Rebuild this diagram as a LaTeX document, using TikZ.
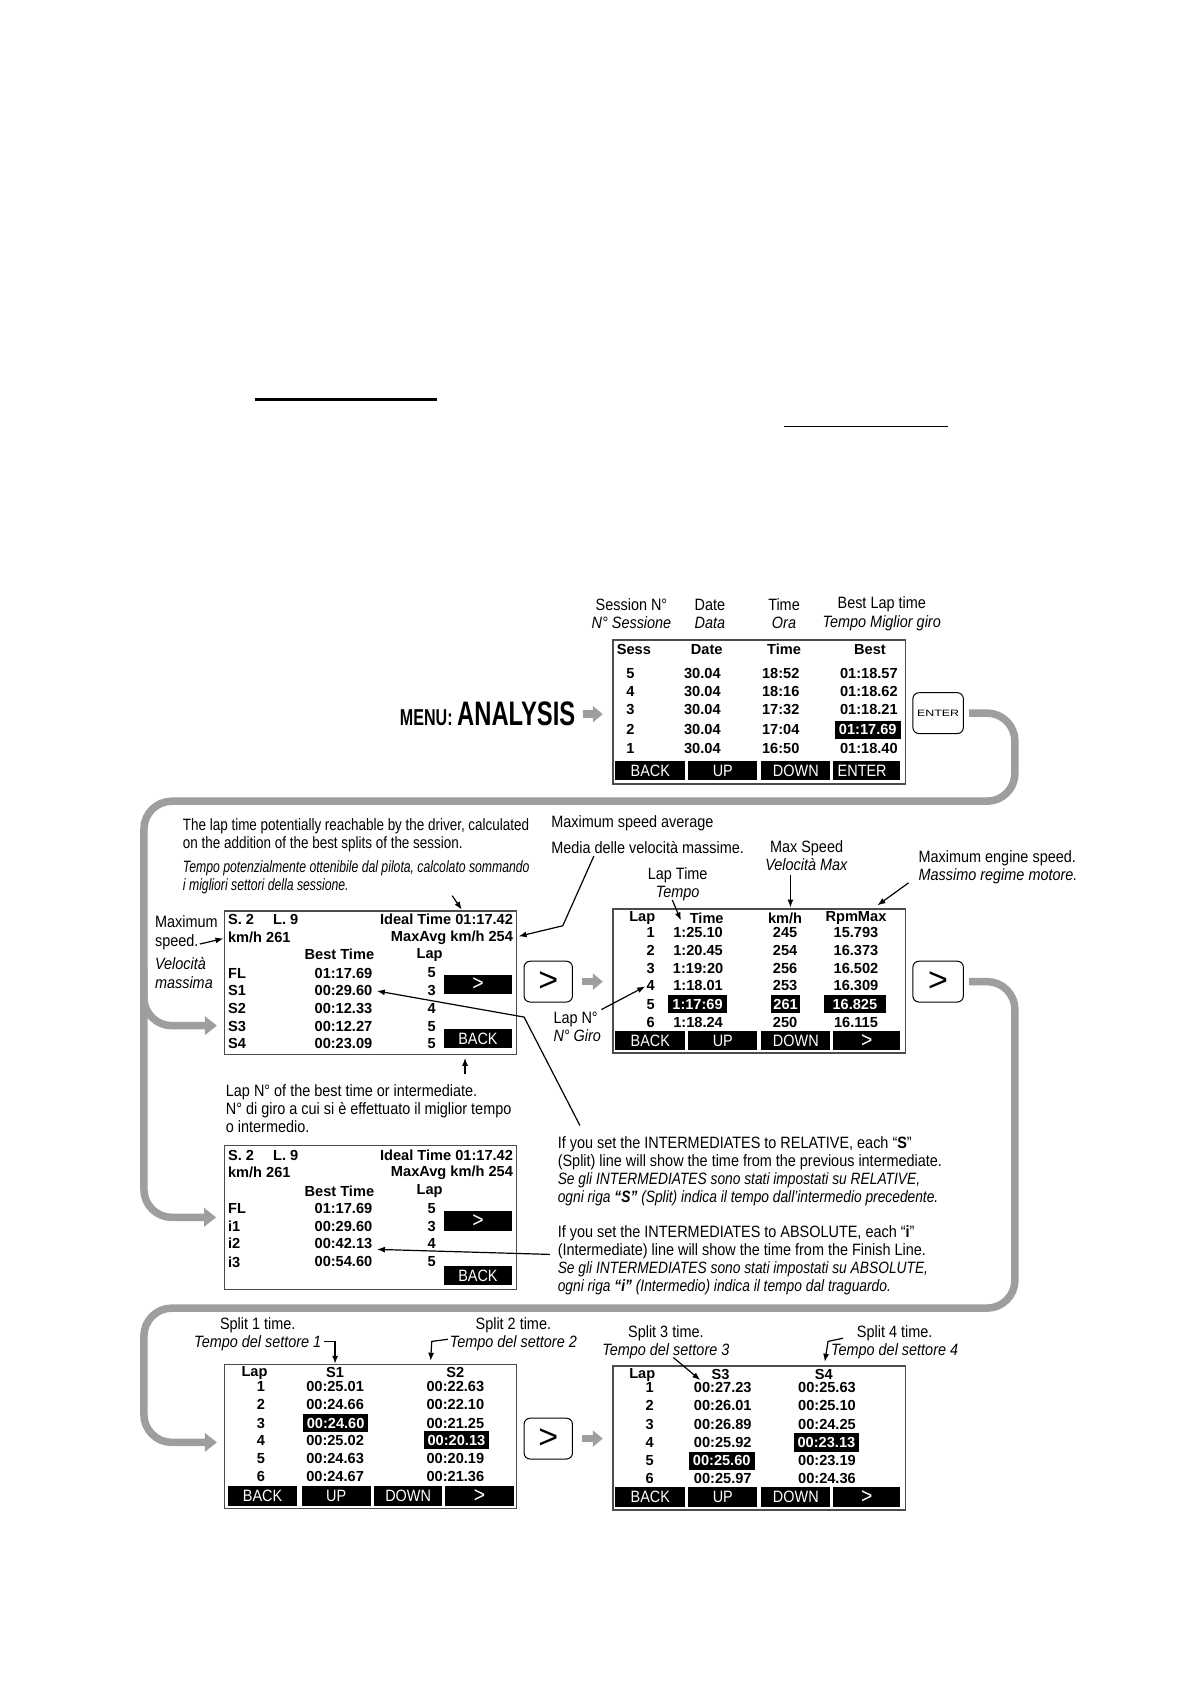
\documentclass[tikz,border=0pt]{standalone}
\usepackage{fontspec}
\setmainfont{Liberation Sans}
\newfontfamily\notefont{Liberation Sans}[FakeStretch=0.88]
\newfontfamily\slimfont{Liberation Sans}[FakeStretch=0.84]
\newfontfamily\condfont{Liberation Sans}[FakeStretch=0.82]
\newfontfamily\xcondfont{Liberation Sans}[FakeStretch=0.745]
\newfontfamily\menufont{Liberation Sans}[FakeStretch=0.7]
\newfontfamily\keyfont{Liberation Sans}[FakeStretch=1.35]
\usetikzlibrary{positioning, arrows.meta}

\newcommand{\px}{0.537pt}
\newcommand{\datasize}{\fontsize{7.3}{8.8}\selectfont\bfseries}
\newcommand{\notesize}{\notefont\fontsize{8.2}{9.1}\selectfont}
\newcommand{\condsize}{\condfont\fontsize{8.2}{9.1}\selectfont}
\newcommand{\xcondsize}{\xcondfont\fontsize{8.2}{9.1}\selectfont}
\newcommand{\slimit}[1]{{\slimfont\itshape #1}}
\newcommand{\btnsize}{\notefont\fontsize{8.2}{9}\selectfont}
\newcommand{\keysize}{\fontsize{17}{17}\selectfont}

\definecolor{flowgray}{gray}{0.62}
\definecolor{framegray}{gray}{0.3}

\begin{document}
\begin{tikzpicture}[
    x=\px, y=-\px,
    screen/.style={
        draw=framegray,
        line width=0.8pt,
        minimum width=272*\px,
        minimum height=134*\px,
        inner sep=0pt
    },
    cell/.style={font=\datasize, inner sep=0pt},
    hl/.style={
        font=\datasize,
        fill=black,
        text=white,
        inner xsep=2pt,
        inner ysep=0pt,
        minimum height=17*\px
    },
    btn/.style={
        fill=black,
        text=white,
        font=\btnsize,
        minimum width=64*\px,
        minimum height=18*\px,
        inner sep=0pt
    },
    nextbtn/.style={btn, font=\notefont\fontsize{11}{11}\selectfont},
    key/.style={
        draw,
        rounded corners=3pt,
        line width=0.5pt,
        minimum width=45*\px,
        minimum height=38*\px,
        inner sep=0pt,
        font=\keysize
    },
    note/.style={font=\notesize, align=left, inner sep=0pt},
    pointer/.style={-{Latex[length=4pt, width=3pt]}, line width=0.6pt},
    flow/.style={draw=flowgray, line width=7*\px, rounded corners=26*\px, -{Triangle[length=6pt, width=9pt]}},
    fwd/.style={draw=flowgray, line width=7*\px, -{Triangle[length=5pt, width=8pt]}}
]
\useasboundingbox (0,0) rectangle (1109,1568);

% Rules at the top of the page
\draw[line width=2.4*\px] (237,372) -- (407,372);
\draw[line width=1.4*\px] (730,397) -- (883,397);

% Session list
\node[inner sep=0pt, anchor=west] (menu) at (372,665) {\menufont\bfseries\fontsize{11.5}{12}\selectfont MENU: \fontsize{17}{17}\selectfont ANALYSIS};

\node[note, align=center] (h-sess) at (588,571.5) {Session N°\\\textit{N° Sessione}};
\node[note, align=center] (h-date) at (661,571.5) {Date\\\textit{Data}};
\node[note, align=center] (h-time) at (730,571.5) {Time\\\textit{Ora}};
\node[note, align=center] (h-best) at (821,571.5) {Best Lap time\\\textit{Tempo Miglior giro}};

\node[screen] (sess) at (707,663) {};
\node[cell, anchor=west] (sess-h1) at (574,605) {Sess};
\node[cell] (sess-h2) at (658,605) {Date};
\node[cell] (sess-h3) at (730,605) {Time};
\node[cell] (sess-h4) at (810,605) {Best};
\foreach \ya/\nn/\tm/\bt in {627/5/18:52/01:18.57, 644/4/18:16/01:18.62, 661/3/17:32/01:18.21, 679/2/17:04/{}, 697/1/16:50/01:18.40} {
    \node[cell] (sess-n\nn) at (587,\ya) {\nn};
    \node[cell] (sess-d\nn) at (654,\ya) {30.04};
    \node[cell] (sess-t\nn) at (727,\ya) {\tm};
    \node[cell] (sess-b\nn) at (809,\ya) {\bt};
}
\node[hl, minimum width=61*\px] (sess-best) at (808,679.5) {01:17.69};
\node[btn, minimum width=65*\px] (sess-back) at (605.5,717.5) {BACK};
\node[btn] (sess-up) at (673,717.5) {UP};
\node[btn] (sess-down) at (741,717.5) {DOWN};
\node[btn, minimum width=62*\px, text width=54*\px, align=left] (sess-enter) at (807,717.5) {ENTER};

\draw[fwd, shorten <=7*\px, shorten >=9*\px] (menu.east) -- (menu.east -| sess.west);
\node[key, font=\keyfont\fontsize{4.6}{5}\selectfont, minimum width=47*\px] (enter) at (873.5,664) {ENTER};

% Ideal time screen
\node[note, font=\condsize, anchor=north west] (ideal-note) at (170,761.5) {The lap time potentially reachable by the driver, calculated\\on the addition of the best splits of the session.};
\node[note, font=\xcondsize\itshape, anchor=north west] (ideal-note-it) at (170,800.5) {Tempo potenzialmente ottenibile dal pilota, calcolato sommando\\i migliori settori della sessione.};
\node[note, anchor=west] (avg-note) at (513,767) {Maximum speed average};
\node[note, anchor=west] (avg-note-it) at (513,789) {Media delle velocità massime.};
\node[note, anchor=north west] (speed-note) at (144,852.5) {Maximum\\speed.};
\node[note, font=\notesize\itshape, anchor=north west] (speed-note-it) at (144,891.5) {Velocità\\massima};

\node[screen] (ideal) at (345,915) {};
\node[cell, anchor=west] (id-s) at (212,856) {S. 2};
\node[cell, anchor=west] (id-l) at (254,856) {L. 9};
\node[cell, anchor=east] (id-ideal) at (478,856) {Ideal Time 01:17.42};
\node[cell, anchor=west] (id-kmh) at (212,873) {km/h 261};
\node[cell, anchor=east] (id-avg) at (478,873) {MaxAvg km/h 254};
\node[cell] (id-bt) at (316,889) {Best Time};
\node[cell] (id-lap) at (400,889) {Lap};
\foreach \ya/\nm/\tm/\lp in {906/FL/01:17.69/5, 922/S1/00:29.60/3, 939/S2/00:12.33/4, 956/S3/00:12.27/5, 972/S4/00:23.09/5} {
    \node[cell, anchor=west] (id-\nm) at (212,\ya) {\nm};
    \node[cell, anchor=east] (id-\nm-t) at (347,\ya) {\tm};
    \node[cell] (id-\nm-l) at (402,\ya) {\lp};
}
\node[nextbtn] (id-next) at (445,916.5) {>};
\node[btn] (id-back) at (445,967) {BACK};

\draw[pointer] (421,834) -- (430,847);
\draw[pointer, shorten >=5*\px] (553,797) -- (524,862) -- (id-avg.east);
\draw[pointer, shorten >=4*\px] (186,879) -- (id-kmh.west);

\node[key] (next1) at (510.5,914) {>};

% Lap list screen
\node[note, align=center] (laptime-note) at (631,823.5) {Lap Time\\\textit{Tempo}};
\node[note, align=center] (maxspeed-note) at (751,796.5) {Max Speed\\\textit{Velocità Max}};
\node[note, anchor=north west] (engine-note) at (855,791.5) {Maximum engine speed.\\\textit{Massimo regime motore.}};
\node[note, anchor=north west] (lapno-note) at (515,941.5) {Lap N°\\\textit{N° Giro}};

\node[screen] (laps) at (707,913.5) {};
\node[cell] (laps-h1) at (598,855) {Lap};
\node[cell] (laps-h2) at (658,855) {Time};
\node[cell] (laps-h3) at (731,855) {km/h};
\node[cell] (laps-h4) at (797,855) {RpmMax};
\foreach \ya/\nn/\tm/\kh/\rp in {868/1/1:25.10/245/15.793, 885/2/1:20.45/254/16.373, 902/3/1:19:20/256/16.502, 918/4/1:18.01/253/16.309, 935/5/{}/{}/{}, 952/6/1:18.24/250/16.115} {
    \node[cell, anchor=east] (laps-n\nn) at (610,\ya) {\nn};
    \node[cell] (laps-t\nn) at (650,\ya) {\tm};
    \node[cell] (laps-k\nn) at (731,\ya) {\kh};
    \node[cell] (laps-r\nn) at (797,\ya) {\rp};
}
\node[hl, minimum width=55*\px] (laps-best-t) at (649.5,935) {1:17:69};
\node[hl, minimum width=27*\px, inner xsep=1pt] (laps-best-k) at (731.5,935) {261};
\node[hl, minimum width=58*\px] (laps-best-r) at (796,935) {16.825};
\node[btn, minimum width=65*\px] (laps-back) at (605.5,969) {BACK};
\node[btn] (laps-up) at (673,969) {UP};
\node[btn] (laps-down) at (741,969) {DOWN};
\node[nextbtn, minimum width=62*\px] (laps-next) at (807,969) {>};

\draw[fwd, shorten <=8*\px, shorten >=9*\px] (next1.east) -- (next1.east -| laps.west);
\draw[pointer] (626,838) -- (634,857);
\draw[pointer] (736,815) -- (736,845);
\draw[pointer] (846,822) -- (817,843);
\draw[pointer, shorten >=1*\px] (560,940) -- (laps-n4.west);

\node[key, minimum width=47*\px] (next2) at (873.5,914) {>};

% Absolute intermediates screen
\node[note, anchor=north west] (bestlap-note) at (210,1009.5) {Lap N° of the best time or intermediate.\\N° di giro a cui si è effettuato il miglior tempo\\o intermedio.};
\node[note, anchor=north west] (rel-note) at (519,1057.5) {If you set the INTERMEDIATES to RELATIVE, each “\textbf{S}”\\(Split) line will show the time from the previous intermediate.\\\slimit{Se gli INTERMEDIATES sono stati impostati su RELATIVE,}\\\slimit{ogni riga \textbf{“S”} (Split) indica il tempo dall’intermedio precedente.}};
\node[note, anchor=north west] (abs-note) at (519,1140.5) {If you set the INTERMEDIATES to ABSOLUTE, each “\textbf{i}”\\(Intermediate) line will show the time from the Finish Line.\\\slimit{Se gli INTERMEDIATES sono stati impostati su ABSOLUTE,}\\\slimit{ogni riga \textbf{“i”} (Intermedio) indica il tempo dal traguardo.}};

\node[screen] (ab) at (345,1133.5) {};
\node[cell, anchor=west] (ab-s) at (212,1076) {S. 2};
\node[cell, anchor=west] (ab-l) at (254,1076) {L. 9};
\node[cell, anchor=east] (ab-ideal) at (478,1076) {Ideal Time 01:17.42};
\node[cell, anchor=west] (ab-kmh) at (212,1092) {km/h 261};
\node[cell, anchor=east] (ab-avg) at (478,1092) {MaxAvg km/h 254};
\node[cell] (ab-bt) at (316,1109) {Best Time};
\node[cell] (ab-lap) at (400,1109) {Lap};
\foreach \ya/\nm/\tm/\lp in {1125/FL/01:17.69/5, 1142/i1/00:29.60/3, 1158/i2/00:42.13/4, 1175/i3/00:54.60/5} {
    \node[cell, anchor=west] (ab-\nm) at (212,\ya) {\nm};
    \node[cell, anchor=east] (ab-\nm-t) at (347,\ya) {\tm};
    \node[cell] (ab-\nm-l) at (402,\ya) {\lp};
}
\node[nextbtn] (ab-next) at (445,1137) {>};
\node[btn] (ab-back) at (445,1187.5) {BACK};

\draw[pointer] (433,1000) -- (433,985);
\draw[pointer, shorten >=4*\px] (540,1048) -- (488,947) -- (id-S1-t.east);
\draw[pointer, shorten >=4*\px] (512,1168) -- (ab-i2-t.south east);

% Loop from the session list down to the two detail screens
\coordinate (id-in) at (209,955);
\draw[flow, shorten <=5*\px, shorten >=7*\px] (enter.east) -- (945,664) -- (945,746) -- (134,746) -- (134,1133.5) -- (ab.west);
\draw[flow, shorten >=7*\px] (134,900) -- (134,955) -- (id-in);

% Split screens
\node[note, align=center] (split1-note) at (240,1242.5) {Split 1 time.\\\textit{Tempo del settore 1}};
\node[note, align=center] (split2-note) at (478,1242.5) {Split 2 time.\\\textit{Tempo del settore 2}};
\node[note, align=center] (split3-note) at (620,1249.5) {Split 3 time.\\\textit{Tempo del settore 3}};
\node[note, align=center] (split4-note) at (833,1249.5) {Split 4 time.\\\textit{Tempo del settore 4}};

\node[screen] (s12) at (345,1337.5) {};
\node[cell] (s12-h1) at (237,1278) {Lap};
\node[cell] (s12-h2) at (312,1278) {S1};
\node[cell] (s12-h3) at (424,1278) {S2};
\foreach \ya/\nn/\sa/\sb in {1291/1/00:25.01/00:22.63, 1308/2/00:24.66/00:22.10, 1325/3/{}/00:21.25, 1341/4/00:25.02/{}, 1358/5/00:24.63/00:20.19, 1375/6/00:24.67/00:21.36} {
    \node[cell] (s12-n\nn) at (243,\ya) {\nn};
    \node[cell] (s12-a\nn) at (312,\ya) {\sa};
    \node[cell] (s12-b\nn) at (424,\ya) {\sb};
}
\node[hl] (s12-best-a) at (312.5,1325) {00:24.60};
\node[hl] (s12-best-b) at (425,1341) {00:20.13};
\node[btn, minimum width=65*\px] (s12-back) at (244.5,1393) {BACK};
\node[btn] (s12-up) at (313,1393) {UP};
\node[btn] (s12-down) at (380,1393) {DOWN};
\node[nextbtn] (s12-next) at (446.5,1393) {>};

\draw[pointer, shorten >=3*\px] (302,1249) -| (s12-h2.north);
\draw[pointer] (417,1247) -- (402,1249) -- (401,1267);

\node[key] (next3) at (510.5,1339.5) {>};

\node[screen] (s34) at (707,1339) {};
\node[cell] (s34-h1) at (598,1280) {Lap};
\node[cell] (s34-h2) at (671,1280) {S3};
\node[cell] (s34-h3) at (767,1280) {S4};
\foreach \ya/\nn/\sa/\sb in {1292/1/00:27.23/00:25.63, 1309/2/00:26.01/00:25.10, 1326/3/00:26.89/00:24.25, 1343/4/00:25.92/{}, 1360/5/{}/00:23.19, 1377/6/00:25.97/00:24.36} {
    \node[cell] (s34-n\nn) at (605,\ya) {\nn};
    \node[cell] (s34-a\nn) at (673,\ya) {\sa};
    \node[cell] (s34-b\nn) at (770,\ya) {\sb};
}
\node[hl] (s34-best-b) at (769.5,1343) {00:23.13};
\node[hl] (s34-best-a) at (672,1360) {00:25.60};
\node[btn, minimum width=65*\px] (s34-back) at (605.5,1394) {BACK};
\node[btn] (s34-up) at (673,1394) {UP};
\node[btn] (s34-down) at (741,1394) {DOWN};
\node[nextbtn, minimum width=62*\px] (s34-next) at (807,1394) {>};

\draw[fwd, shorten <=8*\px, shorten >=9*\px] (next3.east) -- (next3.east -| s34.west);
\draw[pointer] (627,1264) -- (652,1285);
\draw[pointer] (785,1246) -- (771,1249) -- (768,1268);

% Loop from the lap list down to the split screens
\coordinate (s12-in) at (209,1343);
\draw[flow, shorten <=5*\px, shorten >=7*\px] (next2.east) -- (945,914) -- (945,1218) -- (134,1218) -- (134,1343) -- (s12-in);

\end{tikzpicture}
\end{document}
